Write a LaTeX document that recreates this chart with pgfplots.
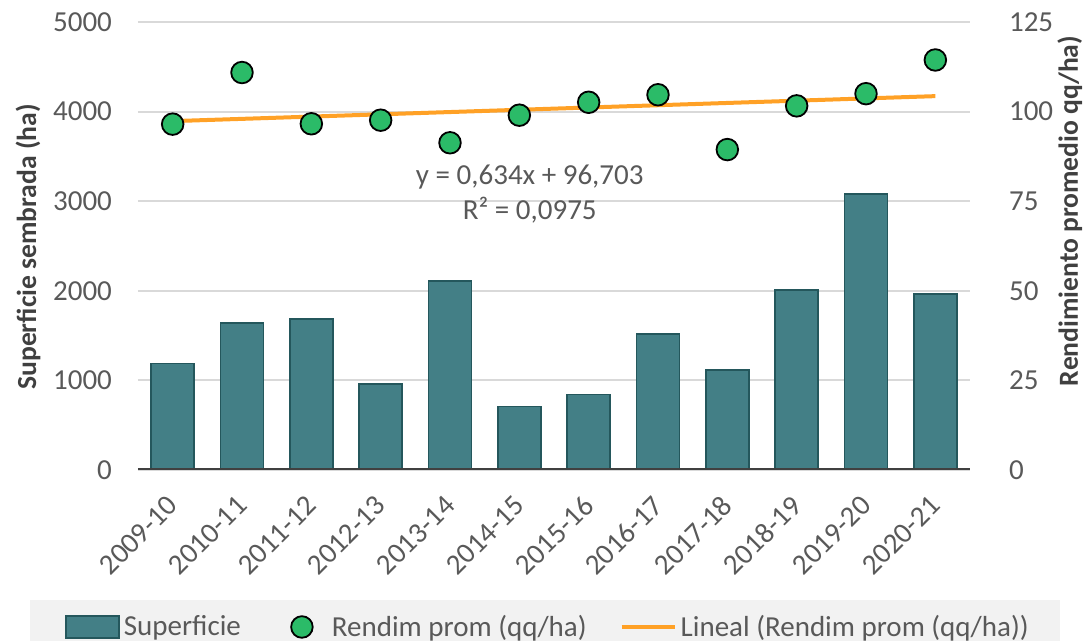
\documentclass[border=0pt]{standalone}
\usepackage{fontspec}
\setmainfont{Carlito}
\usepackage{pgfplots}
\usepackage{pgfplotstable}
\pgfplotsset{compat=1.18}

\definecolor{barfill}{HTML}{437F86}
\definecolor{baredge}{HTML}{24575C}
\definecolor{ptfill}{HTML}{2BBB68}
\definecolor{trend}{HTML}{FFA126}
\definecolor{txt}{HTML}{595959}
\definecolor{lbl}{HTML}{404040}
\definecolor{gridc}{HTML}{D9D9D9}
\definecolor{legbg}{HTML}{F2F2F2}

% superficie sembrada (ha)
\pgfplotstableread{
x sup
1 1190
2 1643
3 1688
4 959
5 2108
6 710
7 844
8 1520
9 1115
10 2011
11 3080
12 1963
}\supdata

% rendimiento promedio (qq/ha)
\pgfplotstableread{
x rend
1 96.5
2 110.9
3 96.6
4 97.6
5 91.3
6 99.0
7 102.6
8 104.7
9 89.4
10 101.6
11 105.0
12 114.4
}\renddata

\pgfplotsset{
  common/.style={
    scale only axis, width=416pt, height=224pt,
    xmin=0.5, xmax=12.5,
    tick style={draw=none},
    tick label style={text=txt, font=\fontsize{14.5}{17}\selectfont},
    /pgf/number format/assume math mode=true,
    /pgf/number format/1000 sep={},
    label style={text=lbl, font=\fontsize{13.8}{17}\selectfont\bfseries},
  }
}

\begin{document}
\begin{tikzpicture}[font=\fontsize{14.5}{17.5}\selectfont]
\useasboundingbox (-69pt,-85.5pt) rectangle (474pt,235pt);
\fill[legbg] (-54pt,-65pt) rectangle (461pt,-85.5pt);

\begin{axis}[
  common,
  ymin=0, ymax=5000,
  ytick={0,1000,...,5000},
  yticklabel style={xshift=-9.5pt},
  xtick={1,...,12},
  xticklabels={2009-10,2010-11,2011-12,2012-13,2013-14,2014-15,2015-16,2016-17,2017-18,2018-19,2019-20,2020-21},
  xticklabel style={xshift=2.5pt, yshift=-13pt, rotate=45, anchor=east},
  axis line style={draw=none},
  ymajorgrids, grid style={gridc, line width=1pt},
  ylabel={Superficie sembrada (ha)},
  ylabel style={at={(rel axis cs:-0.132,0.498)}, anchor=center},
]
\addplot[ybar, bar width=0.62, fill=barfill, draw=baredge, line width=0.8pt]
  table[x=x, y=sup] {\supdata};
\end{axis}

\begin{axis}[
  common,
  ymin=0, ymax=125,
  ytick={0,25,...,125},
  yticklabel style={xshift=16pt},
  axis y line*=right, axis x line=none,
  axis line style={draw=none},
  ylabel={Rendimiento promedio qq/ha)},
  ylabel style={at={(rel axis cs:1.120,0.578)}, anchor=center, rotate=0},
  legend style={at={(rel axis cs:0.494,-0.3504)}, anchor=center, draw=none, fill=none,
    text=txt, font=\fontsize{14.5}{17}\selectfont,
    /tikz/every even column/.append style={column sep=14.5pt}},
  legend columns=3, legend cell align=left,
]
\draw[lbl, line width=1.5pt] (rel axis cs:0,0) -- (rel axis cs:1,0);
\addlegendimage{legend image code/.code={\draw[fill=barfill, draw=baredge, line width=0.8pt] (0pt,-5.5pt) rectangle (26.5pt,5.5pt);}}
\addlegendentry{Superficie}
\addplot[only marks, mark=*, mark size=5.4pt, mark options={fill=ptfill, draw=black, line width=0.9pt},
  legend image code/.code={\path[draw=none] (0pt,0pt) -- (27pt,0pt);
    \draw[mark=*, mark size=5.4pt, mark options={fill=ptfill, draw=black, line width=0.9pt}] plot coordinates {(14pt,0pt)};}]
  table[x=x, y=rend] {\renddata};
\addlegendentry{Rendim prom (qq/ha)}
\addplot[trend, line width=2pt, legend image code/.code={\draw[trend, line width=2pt] (0pt,0pt) -- (26.5pt,0pt);}]
  coordinates {(1,97.337) (12,104.311)};
\addlegendentry{Lineal (Rendim prom (qq/ha))}
\node[text=txt, align=center, font=\fontsize{14.5}{17.5}\selectfont] at (axis cs:6.15,76.9)
  {y = 0,634x + 96,703\\R² = 0,0975};
\end{axis}
\end{tikzpicture}
\end{document}
